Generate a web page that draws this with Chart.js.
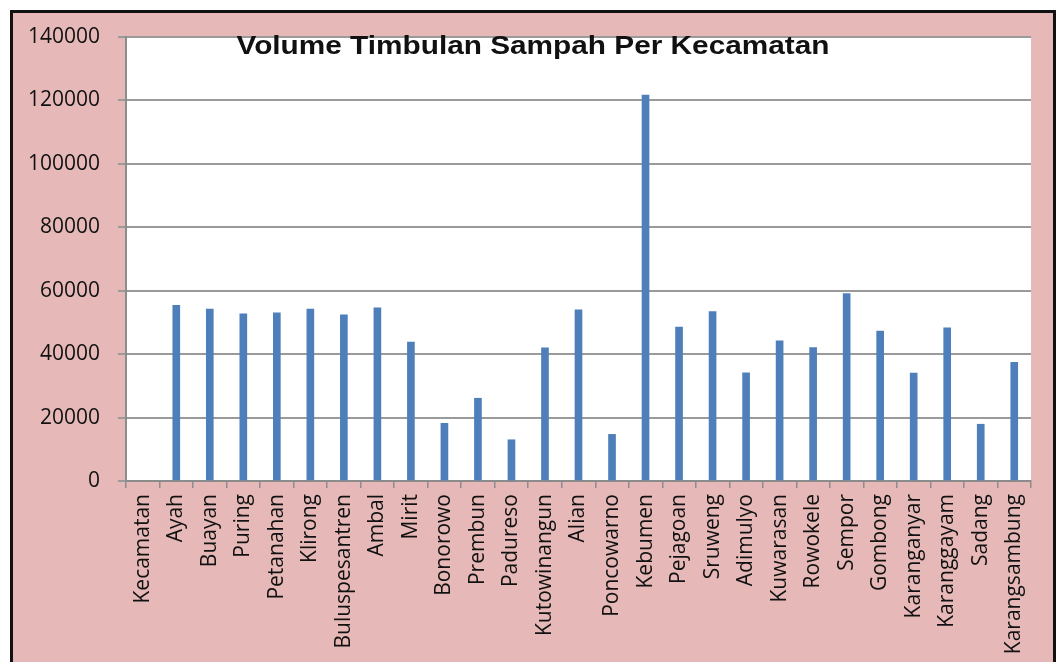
<!DOCTYPE html>
<html>
<head>
<meta charset="utf-8">
<script src="https://cdn.jsdelivr.net/npm/chart.js@4"></script>
<style>
html,body{margin:0;padding:0;background:#fff;}
#wrap{position:relative;width:1058px;height:662px;}
</style>
</head>
<body>
<div id="wrap"><canvas id="c" width="1058" height="662"></canvas></div>
<script>
const chartTitle = "Volume Timbulan Sampah Per Kecamatan";
const categories = ["Kecamatan","Ayah","Buayan","Puring","Petanahan","Klirong","Buluspesantren","Ambal","Mirit","Bonorowo","Prembun","Padureso","Kutowinangun","Alian","Poncowarno","Kebumen","Pejagoan","Sruweng","Adimulyo","Kuwarasan","Rowokele","Sempor","Gombong","Karanganyar","Karanggayam","Sadang","Karangsambung"];
const volumes = [null,55400,54200,52700,53000,54200,52400,54600,43800,18200,26100,13000,42000,54000,14700,121700,48500,53400,34100,44200,42100,59100,47300,34000,48300,17900,37400];
const yMin = 0, yMax = 140000, yStep = 20000;

const framePlugin = {
  id: 'frame',
  beforeDraw(chart) {
    const ctx = chart.ctx, W = chart.width, H = chart.height, a = chart.chartArea;
    ctx.save();
    ctx.fillStyle = '#ffffff';
    ctx.fillRect(0, 0, W, H);
    ctx.fillStyle = '#e6b9b8';
    ctx.fillRect(10, 10, W - 12, H - 10);
    ctx.fillStyle = '#ffffff';
    ctx.fillRect(a.left, a.top, a.right - a.left, a.bottom - a.top);
    ctx.fillStyle = '#111111';
    ctx.fillRect(10, 10, 3, H - 10);
    ctx.fillRect(10, 10, W - 12, 3);
    ctx.fillRect(W - 5, 10, 3, H - 10);
    ctx.restore();
  },
  afterDraw(chart) {
    const ctx = chart.ctx;
    ctx.save();
    ctx.font = 'bold 25px "Liberation Sans", Arial, sans-serif';
    ctx.fillStyle = '#111111';
    ctx.textBaseline = 'middle';
    ctx.textAlign = 'center';
    const w = ctx.measureText(chartTitle).width;
    const sx = 593 / w;
    ctx.translate(533, 47);
    ctx.scale(sx, 1);
    ctx.fillText(chartTitle, 0, 0);
    ctx.restore();
  }
};

function draw() {
  new Chart(document.getElementById('c'), {
    type: 'bar',
    data: {
      labels: categories,
      datasets: [{
        data: volumes,
        backgroundColor: '#4f7fba',
        borderWidth: 0,
        barThickness: 7
      }]
    },
    options: {
      responsive: false,
      animation: false,
      devicePixelRatio: 1,
      layout: { padding: { left: 0, top: 37, right: 27, bottom: 0 } },
      plugins: { legend: { display: false }, tooltip: { enabled: false }, title: { display: false } },
      scales: {
        x: {
          offset: true,
          afterFit(scale) { scale.height = 181; },
          grid: { offset: true, drawOnChartArea: false, drawTicks: true, tickLength: 7, color: '#8c8c8c', lineWidth: 1.5 },
          border: { display: true, color: '#8c8c8c', width: 2 },
          ticks: {
            autoSkip: false, minRotation: 90, maxRotation: 90, padding: 6,
            color: '#111111',
            font: { family: '"Open Sans", Lato, sans-serif', size: 21 }
          }
        },
        y: {
          min: yMin, max: yMax,
          afterFit(scale) { scale.width = 126; },
          grid: { color: '#9a9a9a', lineWidth: 2, tickLength: 8, drawTicks: true },
          border: { display: true, color: '#8c8c8c', width: 2 },
          ticks: {
            stepSize: yStep, padding: 18, color: '#111111',
            font: { family: '"Open Sans", Lato, sans-serif', size: 21 },
            callback: v => String(v)
          }
        }
      }
    },
    plugins: [framePlugin]
  });
}

Promise.all([
  document.fonts.load('21px "Open Sans"'),
  document.fonts.load('bold 25px "Liberation Sans"')
]).then(draw, draw);
</script>
</body>
</html>
